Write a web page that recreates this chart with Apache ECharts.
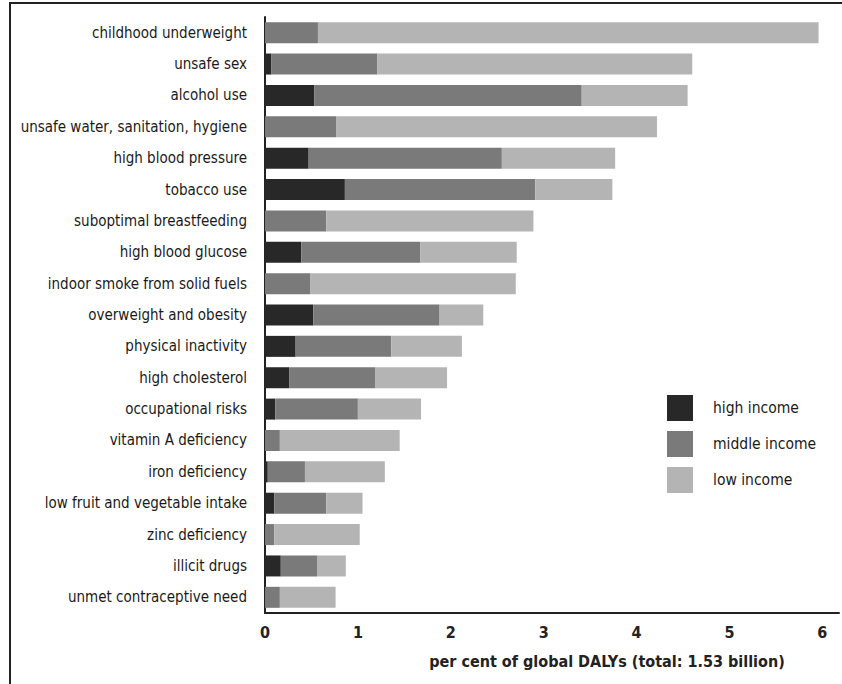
<!DOCTYPE html>
<html>
<head>
<meta charset="utf-8">
<script src="https://cdn.jsdelivr.net/npm/echarts@6/dist/echarts.min.js"></script>
<style>
html,body{margin:0;padding:0;background:#fff;}
#chart{width:842px;height:684px;}
</style>
</head>
<body>
<div id="chart"></div>
<script>
const categories = [
  "childhood underweight",
  "unsafe sex",
  "alcohol use",
  "unsafe water, sanitation, hygiene",
  "high blood pressure",
  "tobacco use",
  "suboptimal breastfeeding",
  "high blood glucose",
  "indoor smoke from solid fuels",
  "overweight and obesity",
  "physical inactivity",
  "high cholesterol",
  "occupational risks",
  "vitamin A deficiency",
  "iron deficiency",
  "low fruit and vegetable intake",
  "zinc deficiency",
  "illicit drugs",
  "unmet contraceptive need"
];
const highIncome   = [0, 0.07, 0.53, 0, 0.47, 0.86, 0, 0.39, 0, 0.52, 0.33, 0.26, 0.11, 0, 0.03, 0.10, 0, 0.17, 0];
const middleIncome = [0.57, 1.14, 2.88, 0.77, 2.08, 2.05, 0.66, 1.28, 0.49, 1.36, 1.03, 0.93, 0.89, 0.16, 0.40, 0.56, 0.10, 0.39, 0.16];
const lowIncome    = [5.39, 3.39, 1.14, 3.45, 1.22, 0.83, 2.23, 1.04, 2.21, 0.47, 0.76, 0.77, 0.68, 1.29, 0.86, 0.39, 0.92, 0.31, 0.60];
const xTicks = [0, 1, 2, 3, 4, 5, 6];
const seriesNames = ["high income", "middle income", "low income"];

const FONT = '"Liberation Sans Narrow", "DejaVu Sans Condensed", sans-serif';
const chart = echarts.init(document.getElementById('chart'), null, {renderer: 'svg'});
const colors = ['#282828', '#7a7a7a', '#b4b4b4'];
const dataSets = [highIncome, middleIncome, lowIncome];

chart.setOption({
  animation: false,
  backgroundColor: '#fff',
  textStyle: {fontFamily: FONT},
  graphic: [{
    type: 'rect',
    shape: {x: 10, y: 3, width: 850, height: 700},
    style: {fill: 'none', stroke: '#222', lineWidth: 2},
    silent: true
  }],
  grid: {left: 265, right: 0, top: 17, bottom: 71, containLabel: false},
  legend: {
    orient: 'vertical',
    left: 662,
    top: 390,
    itemWidth: 26,
    itemHeight: 26,
    itemGap: 10,
    icon: 'rect',
    data: seriesNames,
    textStyle: {fontFamily: FONT, fontSize: 15.5, color: '#1a1a1a', padding: [0, 0, 0, 15]}
  },
  xAxis: {
    type: 'value',
    min: 0,
    max: 6.18,
    interval: 1,
    axisLine: {show: true, lineStyle: {color: '#222', width: 2}},
    axisTick: {show: false},
    splitLine: {show: false},
    axisLabel: {
      margin: 11,
      fontFamily: FONT,
      fontSize: 16,
      fontWeight: 'bold',
      color: '#222',
      formatter: function (v) { return xTicks.indexOf(v) >= 0 ? String(v) : ''; }
    },
    name: 'per cent of global DALYs (total: 1.53 billion)',
    nameLocation: 'middle',
    nameGap: 40,
    nameTextStyle: {fontFamily: FONT, fontSize: 16, fontWeight: 'bold', color: '#222', padding: [0, 0, 0, 110]}
  },
  yAxis: {
    type: 'category',
    data: categories,
    inverse: true,
    axisLine: {show: true, lineStyle: {color: '#222', width: 2}},
    axisTick: {show: false},
    axisLabel: {margin: 18, fontFamily: FONT, fontSize: 15, color: '#1a1a1a'}
  },
  series: seriesNames.map(function (name, i) {
    return {
      name: name,
      type: 'bar',
      stack: 'total',
      barWidth: 21,
      itemStyle: {color: colors[i]},
      data: dataSets[i]
    };
  })
});
</script>
</body>
</html>
